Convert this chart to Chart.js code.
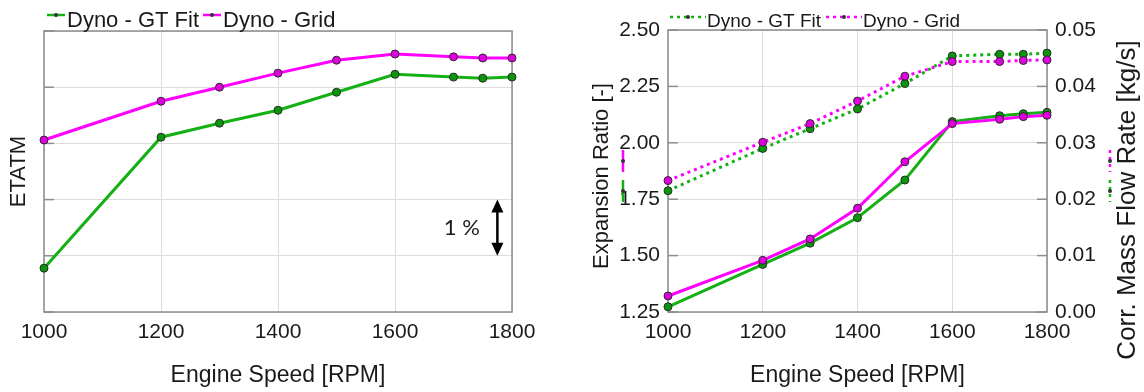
<!DOCTYPE html>
<html>
<head>
<meta charset="utf-8">
<script src="https://cdn.jsdelivr.net/npm/chart.js@4"></script>
<style>
  body { margin: 0; background: #fff; }
  #left { position: absolute; left: 0; top: 0; }
  #right { position: absolute; left: 580px; top: 0; }
</style>
</head>
<body>
<canvas id="left" width="560" height="392"></canvas>
<canvas id="right" width="564" height="392"></canvas>
<script>
// engine speed points
const rpm = [1000, 1200, 1300, 1400, 1500, 1600, 1700, 1750, 1800];
const rpmTicks = [1000, 1200, 1400, 1600, 1800];

// ETATM, relative (one grid step = 1 %)
const etatmGtFit = [0.78, 3.11, 3.36, 3.59, 3.91, 4.23, 4.18, 4.16, 4.18];
const etatmGrid = [3.06, 3.75, 4.00, 4.25, 4.48, 4.59, 4.54, 4.52, 4.52];

// expansion ratio [-]
const expRatioGtFit = [1.273, 1.461, 1.555, 1.668, 1.835, 2.094, 2.120, 2.129, 2.135];
const expRatioGrid = [1.321, 1.479, 1.574, 1.710, 1.916, 2.085, 2.104, 2.116, 2.122];
const expRatioTicks = [1.25, 1.50, 1.75, 2.00, 2.25, 2.50];

// corrected mass flow rate [kg/s]
const massFlowGtFit = [0.0215, 0.0290, 0.0325, 0.0360, 0.0405, 0.0454, 0.0457, 0.0457, 0.0459];
const massFlowGrid = [0.0233, 0.0301, 0.0334, 0.0374, 0.0418, 0.0444, 0.0444, 0.0446, 0.0447];
const massFlowTicks = [0.00, 0.01, 0.02, 0.03, 0.04, 0.05];

const green = '#14b014';
const greenDot = '#0a960a';
const magenta = '#ff00ff';
const magentaDot = '#e000e0';
const textColor = '#1a1a1a';
const fontFamily = '"Liberation Sans", Arial, sans-serif';

const pts = (ys) => rpm.map((r, i) => ({ x: r, y: ys[i] }));

function series(label, ys, color, dot, extra) {
  return Object.assign({
    label: label,
    data: pts(ys),
    borderColor: color,
    borderWidth: 3,
    pointBackgroundColor: dot,
    pointBorderColor: '#2a2a2a',
    pointBorderWidth: 1,
    pointRadius: 4,
    tension: 0,
    clip: false
  }, extra || {});
}

// little legend on top: line sample, dot, label
const miniLegend = {
  id: 'miniLegend',
  afterDraw(chart, args, opts) {
    const ctx = chart.ctx;
    ctx.save();
    ctx.font = opts.fontSize + 'px ' + fontFamily;
    ctx.textBaseline = 'alphabetic';
    let x = opts.x;
    chart.data.datasets.forEach(ds => {
      if (ds.inLegend === false) return;
      ctx.strokeStyle = ds.borderColor;
      ctx.lineWidth = 2.5;
      ctx.setLineDash(ds.borderDash || []);
      ctx.beginPath();
      ctx.moveTo(x, opts.lineY);
      ctx.lineTo(x + opts.lineLen, opts.lineY);
      ctx.stroke();
      ctx.setLineDash([]);
      ctx.fillStyle = '#333';
      ctx.beginPath();
      ctx.arc(x + opts.lineLen / 2, opts.lineY, 2, 0, Math.PI * 2);
      ctx.fill();
      x += opts.lineLen + opts.gap;
      ctx.fillStyle = textColor;
      ctx.fillText(ds.label, x, opts.textY);
      x += ctx.measureText(ds.label).width + opts.itemGap;
    });
    ctx.restore();
  }
};

// box around plot + short inner ticks on y axes
const frame = {
  id: 'frame',
  beforeDatasetsDraw(chart) {
    const ctx = chart.ctx;
    const a = chart.chartArea;
    ctx.save();
    ctx.strokeStyle = '#8c8c8c';
    ctx.lineWidth = 1.5;
    Object.values(chart.scales).forEach(s => {
      if (s.axis !== 'y') return;
      s.ticks.forEach(t => {
        const py = s.getPixelForValue(t.value);
        ctx.beginPath();
        if (s.position === 'left') { ctx.moveTo(a.left, py); ctx.lineTo(a.left + 10, py); }
        else { ctx.moveTo(a.right - 10, py); ctx.lineTo(a.right, py); }
        ctx.stroke();
      });
    });
    ctx.strokeRect(a.left, a.top, a.right - a.left, a.bottom - a.top);
    ctx.restore();
  }
};

// the "1 %" scale mark on the ETATM chart
const percentMark = {
  id: 'percentMark',
  afterDraw(chart) {
    const ctx = chart.ctx;
    const xs = chart.scales.x, ys = chart.scales.y;
    const ax = xs.getPixelForValue(1775);
    const y0 = ys.getPixelForValue(2), y1 = ys.getPixelForValue(1);
    ctx.save();
    ctx.strokeStyle = '#000';
    ctx.fillStyle = '#000';
    ctx.lineWidth = 2.5;
    ctx.beginPath();
    ctx.moveTo(ax, y0 + 8);
    ctx.lineTo(ax, y1 - 8);
    ctx.stroke();
    ctx.beginPath();
    ctx.moveTo(ax, y0); ctx.lineTo(ax - 6, y0 + 13); ctx.lineTo(ax + 6, y0 + 13); ctx.closePath();
    ctx.fill();
    ctx.beginPath();
    ctx.moveTo(ax, y1); ctx.lineTo(ax - 6, y1 - 13); ctx.lineTo(ax + 6, y1 - 13); ctx.closePath();
    ctx.fill();
    ctx.font = '22px Lato, "Open Sans", sans-serif';
    ctx.textAlign = 'right';
    ctx.textBaseline = 'middle';
    ctx.fillStyle = textColor;
    ctx.fillText('1 %', xs.getPixelForValue(1745), ys.getPixelForValue(1.5));
    ctx.restore();
  }
};

// rotated y titles and the small line keys beside them
const sideTitles = {
  id: 'sideTitles',
  afterDraw(chart, args, opts) {
    const ctx = chart.ctx;
    const ds = chart.data.datasets;
    ctx.save();
    opts.titles.forEach(t => {
      ctx.save();
      ctx.translate(t.x, t.y);
      ctx.rotate(-Math.PI / 2);
      ctx.font = t.size + 'px ' + fontFamily;
      ctx.fillStyle = textColor;
      ctx.textAlign = 'center';
      ctx.textBaseline = 'middle';
      ctx.fillText(t.text, 0, 0);
      ctx.restore();
    });
    opts.keys.forEach(k => {
      const d = ds[k.ds];
      ctx.strokeStyle = d.borderColor;
      ctx.lineWidth = 2.5;
      ctx.setLineDash(d.borderDash || []);
      ctx.beginPath();
      ctx.moveTo(k.x, k.y0);
      ctx.lineTo(k.x, k.y1);
      ctx.stroke();
      ctx.setLineDash([]);
      ctx.fillStyle = '#333';
      ctx.beginPath();
      ctx.arc(k.x, (k.y0 + k.y1) / 2, 2, 0, Math.PI * 2);
      ctx.fill();
    });
    ctx.restore();
  }
};

const tickFont = { family: fontFamily, size: 21 };
const titleFont = { family: fontFamily, size: 23 };

const xAxis = {
  type: 'linear',
  min: rpmTicks[0],
  max: rpmTicks[rpmTicks.length - 1],
  afterBuildTicks: s => { s.ticks = rpmTicks.map(v => ({ value: v })); },
  ticks: { font: tickFont, color: textColor, padding: 8, maxRotation: 0, callback: v => String(v) },
  grid: { color: '#dcdcdc', drawTicks: false },
  border: { display: false },
  title: { display: true, text: 'Engine Speed [RPM]', font: titleFont, color: textColor, padding: { top: 0, bottom: 3 } },
  afterFit: s => { s.height = 80; }
};

new Chart(document.getElementById('left'), {
  type: 'line',
  data: {
    datasets: [
      series('Dyno - GT Fit', etatmGtFit, green, greenDot, { order: 2 }),
      series('Dyno - Grid', etatmGrid, magenta, magentaDot, { order: 1 })
    ]
  },
  options: {
    responsive: false,
    animation: false,
    layout: { padding: { top: 31, right: 48, left: 0, bottom: 0 } },
    plugins: {
      legend: { display: false },
      tooltip: { enabled: false },
      miniLegend: { x: 47, lineY: 15, textY: 27, lineLen: 18, gap: 2, itemGap: 4, fontSize: 22 }
    },
    scales: {
      x: xAxis,
      y: {
        min: 0, max: 5,
        ticks: { stepSize: 1, display: false },
        grid: { color: '#dcdcdc', drawTicks: false },
        border: { display: false },
        title: { display: true, text: 'ETATM', font: { family: fontFamily, size: 22 }, color: textColor, padding: { top: 6, bottom: 0 } },
        afterFit: s => { s.width = 44; }
      }
    }
  },
  plugins: [miniLegend, frame, percentMark]
});

new Chart(document.getElementById('right'), {
  type: 'line',
  data: {
    datasets: [
      series('Dyno - GT Fit', massFlowGtFit, green, greenDot, { yAxisID: 'y2', borderDash: [3, 4], order: 4 }),
      series('Dyno - Grid', massFlowGrid, magenta, magentaDot, { yAxisID: 'y2', borderDash: [3, 4], order: 3 }),
      series('Dyno - GT Fit', expRatioGtFit, green, greenDot, { yAxisID: 'y', inLegend: false, order: 2 }),
      series('Dyno - Grid', expRatioGrid, magenta, magentaDot, { yAxisID: 'y', inLegend: false, order: 1 })
    ]
  },
  options: {
    responsive: false,
    animation: false,
    layout: { padding: { top: 30, right: 0, left: 0, bottom: 0 } },
    plugins: {
      legend: { display: false },
      tooltip: { enabled: false },
      miniLegend: { x: 90, lineY: 17, textY: 27, lineLen: 36, gap: 1, itemGap: 5, fontSize: 19 },
      sideTitles: {
        titles: [
          { text: 'Expansion Ratio [-]', x: 22, y: 176, size: 22 },
          { text: 'Corr. Mass Flow Rate [kg/s]', x: 548, y: 200, size: 26 }
        ],
        keys: [
          { ds: 3, x: 43, y0: 150, y1: 172 },
          { ds: 2, x: 43, y0: 180, y1: 202 },
          { ds: 1, x: 530, y0: 150, y1: 172 },
          { ds: 0, x: 530, y0: 180, y1: 202 }
        ]
      }
    },
    scales: {
      x: xAxis,
      y: {
        position: 'left',
        min: expRatioTicks[0],
        max: expRatioTicks[expRatioTicks.length - 1],
        afterBuildTicks: s => { s.ticks = expRatioTicks.map(v => ({ value: v })); },
        ticks: { font: tickFont, color: textColor, padding: 8, callback: v => v.toFixed(2) },
        grid: { color: '#dcdcdc', drawTicks: false },
        border: { display: false },
        afterFit: s => { s.width = 88; }
      },
      y2: {
        position: 'right',
        min: massFlowTicks[0],
        max: massFlowTicks[massFlowTicks.length - 1],
        afterBuildTicks: s => { s.ticks = massFlowTicks.map(v => ({ value: v })); },
        ticks: { font: tickFont, color: textColor, padding: 8, callback: v => v.toFixed(2) },
        grid: { drawOnChartArea: false, drawTicks: false },
        border: { display: false },
        afterFit: s => { s.width = 97; }
      }
    }
  },
  plugins: [miniLegend, frame, sideTitles]
});
</script>
</body>
</html>
